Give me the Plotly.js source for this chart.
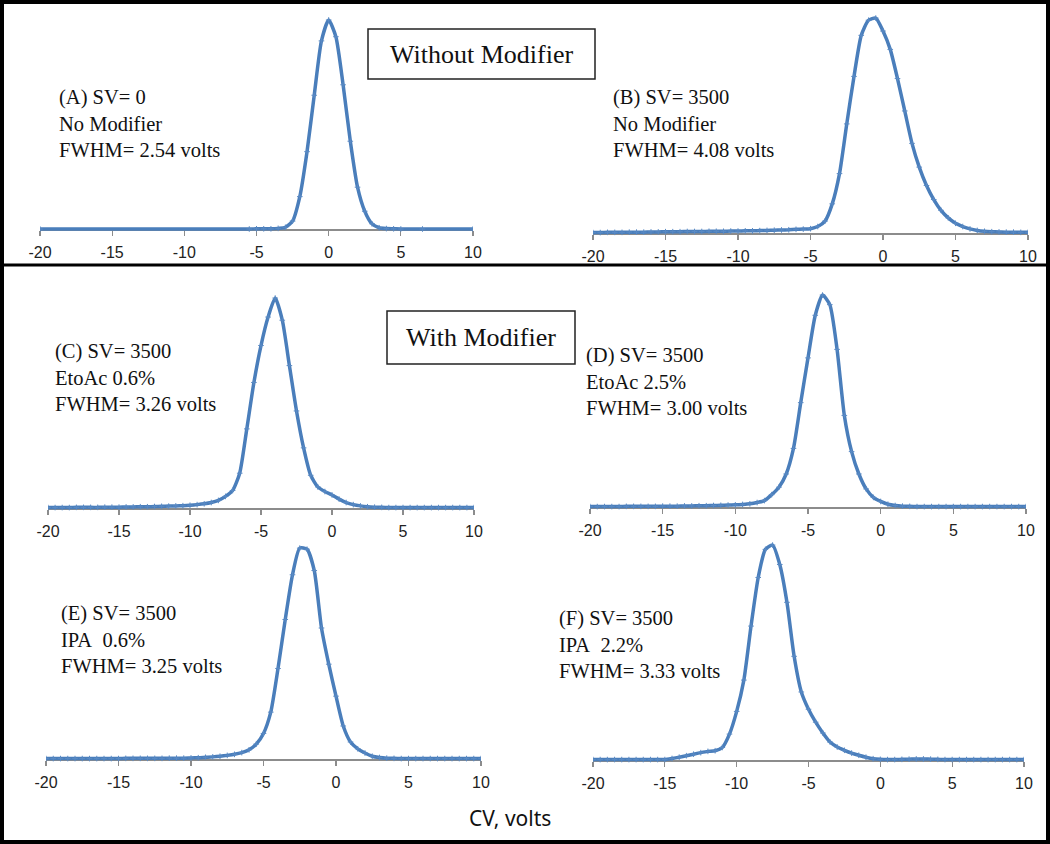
<!DOCTYPE html>
<html>
<head>
<meta charset="utf-8">
<script src="https://cdn.plot.ly/plotly-3.0.1.min.js"></script>
<style>html,body{margin:0;padding:0;background:#fff;}#chart{width:1050px;height:844px;}</style>
</head>
<body>
<div id="chart"></div>
<script>
// ---- Data (CV in volts, normalized intensity) ----
const cvA = [-20,-5.5,-5,-4.5,-4,-3.5,-3,-2.5,-2,-1.5,-1,-0.5,0,0.5,1,1.5,2,2.5,3,3.5,4,4.5,5,6.5,10];
const intensityA = [0,0,0.001,0.001,0.001,0.003,0.008,0.038,0.155,0.37,0.64,0.9,1.0,0.92,0.69,0.42,0.2,0.085,0.025,0.006,0.002,0.001,0,0,0];

const cv = [-20,-19.5,-19,-18.5,-18,-17.5,-17,-16.5,-16,-15.5,-15,-14.5,-14,-13.5,-13,-12.5,-12,-11.5,-11,-10.5,
            -10,-9.5,-9,-8.5,-8,-7.5,-7,-6.5,-6,-5.5,-5,-4.5,-4,-3.5,-3,-2.5,-2,-1.5,-1,-0.5,
            0,0.5,1,1.5,2,2.5,3,3.5,4,4.5,5,5.5,6,6.5,7,7.5,8,8.5,9,9.5,10];

const intensityB = [0.002,0.002,0.003,0.003,0.003,0.004,0.004,0.004,0.005,0.005,0.006,0.006,0.006,0.007,0.007,0.007,0.008,0.008,0.008,0.009,
                    0.009,0.01,0.01,0.011,0.012,0.013,0.014,0.015,0.017,0.018,0.02,
                    0.03,0.055,0.135,0.275,0.505,0.725,0.915,0.985,0.995,0.935,0.85,0.715,0.565,0.415,0.305,0.22,0.155,0.105,0.07,
                    0.045,0.03,0.019,0.012,0.008,0.006,0.005,0.004,0.004,0.003,0.003];

const intensityC = [0.002,0.002,0.002,0.002,0.003,0.003,0.003,0.003,0.004,0.004,0.004,0.005,0.005,0.006,0.006,0.007,0.008,0.009,0.01,0.011,0.013,
                    0.016,0.02,0.026,0.036,0.055,0.083,0.165,0.375,0.595,0.77,0.905,0.995,0.89,0.675,0.46,0.285,0.155,0.1,0.078,0.062,
                    0.042,0.026,0.016,0.01,0.006,0.004,0.003,0.002,
                    0.002,0.002,0.002,0.002,0.002,0.002,0.002,0.002,0.002,0.002,0.002,0.002];

const intensityD = [0.002,0.002,0.002,0.002,0.002,0.003,0.003,0.003,0.003,0.003,0.004,0.004,0.004,0.005,0.005,0.006,0.006,0.007,0.008,0.009,
                    0.01,0.012,0.015,0.021,0.03,0.058,0.093,0.155,0.275,0.49,0.7,0.9,0.995,0.95,0.74,0.43,0.26,0.155,0.085,0.045,
                    0.026,0.013,0.007,0.004,0.003,
                    0.002,0.002,0.002,0.002,0.002,0.002,0.002,0.002,0.002,0.002,0.002,0.002,0.002,0.002,0.002,0.002];

const intensityE = [0.002,0.002,0.002,0.002,0.002,0.002,0.002,0.002,0.002,0.002,0.002,0.003,0.003,0.003,0.003,0.003,0.003,0.004,0.004,0.004,0.005,
                    0.006,0.008,0.01,0.013,0.017,0.022,0.03,0.043,0.07,0.12,0.22,0.425,0.655,0.865,0.99,0.985,0.885,0.615,0.445,
                    0.295,0.155,0.08,0.048,0.028,0.013,0.007,0.004,0.003,
                    0.002,0.002,0.002,0.002,0.002,0.002,0.002,0.002,0.002,0.002,0.002,0.002];

const intensityF = [0.002,0.002,0.002,0.002,0.002,0.002,0.002,0.002,0.002,0.002,0.002,
                    0.007,0.013,0.02,0.027,0.034,0.04,0.043,0.058,0.12,0.225,0.37,0.62,0.845,0.975,0.995,0.905,0.73,0.48,0.315,
                    0.235,0.175,0.125,0.083,0.06,0.045,0.032,0.022,0.013,0.006,0.003,
                    0.002,0.002,0.003,0.004,0.005,0.005,0.004,0.003,0.002,
                    0.002,0.002,0.002,0.002,0.002,0.002,0.002,0.002,0.002,0.002,0.002];

const tickValues = [-20,-15,-10,-5,0,5,10];
const tickLabels = ['-20','-15','-10','-5','0','5','10'];

const panelLabels = [
  '(A) SV= 0<br>No Modifier<br>FWHM= 2.54 volts',
  '(B) SV= 3500<br>No Modifier<br>FWHM= 4.08 volts',
  '(C) SV= 3500<br>EtoAc 0.6%<br>FWHM= 3.26 volts',
  '(D) SV= 3500<br>EtoAc 2.5%<br>FWHM= 3.00 volts',
  '(E) SV= 3500<br>IPA&nbsp;&nbsp;0.6%<br>FWHM= 3.25 volts',
  '(F) SV= 3500<br>IPA&nbsp;&nbsp;2.2%<br>FWHM= 3.33 volts'
];
const boxTitles = ['Without Modifier', 'With Modifier'];
const axisTitle = 'CV, volts';

// ---- Layout geometry (pixels) ----
const W = 1050, H = 844;
const series = [
  {x: cvA, y: intensityA},
  {x: cv, y: intensityB},
  {x: cv, y: intensityC},
  {x: cv, y: intensityD},
  {x: cv, y: intensityE},
  {x: cv, y: intensityF}
];
const geom = [
  {x0: 40,  x1: 473,  base: 229, h: 209, tx: 57,  ty: 124},
  {x0: 593, x1: 1028, base: 233, h: 216, tx: 611, ty: 124},
  {x0: 48,  x1: 474,  base: 508, h: 211, tx: 53,  ty: 377},
  {x0: 590, x1: 1026, base: 507, h: 213, tx: 584, ty: 382},
  {x0: 46,  x1: 481,  base: 759, h: 213, tx: 59,  ty: 639},
  {x0: 593, x1: 1024, base: 760, h: 216, tx: 557, ty: 644}
];
const yLo = -0.03, yHi = 1.05;
const fx = px => px / W;
const fy = py => (H - py) / H;

const data = [];
const layout = {
  width: W, height: H,
  margin: {l: 0, r: 0, t: 0, b: 0},
  paper_bgcolor: '#ffffff', plot_bgcolor: 'rgba(0,0,0,0)',
  showlegend: false, hovermode: false,
  annotations: [], shapes: []
};

series.forEach((s, i) => {
  const k = i + 1;
  const g = geom[i];
  const xa = 'xaxis' + (k === 1 ? '' : k);
  const ya = 'yaxis' + (k === 1 ? '' : k);
  data.push({
    x: s.x, y: s.y,
    xaxis: 'x' + (k === 1 ? '' : k), yaxis: 'y' + (k === 1 ? '' : k),
    type: 'scatter', mode: 'lines+markers',
    line: {color: '#4A7EBB', width: 3.5, shape: 'spline', smoothing: 0.6},
    marker: {symbol: 'cross-thin', size: 4, color: '#5A8AC4', line: {width: 1, color: '#5A8AC4'}}
  });
  const bottomPx = g.base - yLo * g.h;
  const topPx = g.base - yHi * g.h;
  layout[ya] = {
    domain: [fy(bottomPx), fy(topPx)],
    range: [yLo, yHi], visible: false, fixedrange: true
  };
  layout[xa] = {
    domain: [fx(g.x0), fx(g.x1)],
    range: [-20, 10],
    anchor: 'free', position: fy(g.base),
    tickvals: tickValues, ticktext: tickLabels,
    showline: true, linecolor: '#8c8c8c', linewidth: 1.5,
    ticks: 'outside', ticklen: 5, tickwidth: 1.2, tickcolor: '#8c8c8c',
    showgrid: false, zeroline: false,
    layer: 'below traces',
    ticklabelstandoff: 3,
    tickfont: {family: 'Liberation Sans, Arial, sans-serif', size: 16, color: '#222'},
    fixedrange: true
  };
  layout.annotations.push({
    xref: 'paper', yref: 'paper', x: fx(g.tx), y: fy(g.ty),
    xanchor: 'left', yanchor: 'middle', align: 'left', showarrow: false,
    text: panelLabels[i],
    font: {family: 'Liberation Serif, Times New Roman, serif', size: 20.5, color: '#111'}
  });
});

// Boxed section titles
const boxes = [
  {x0: 368, x1: 595, y0: 29, y1: 79},
  {x0: 387, x1: 575, y0: 311, y1: 364}
];
boxes.forEach((b, i) => {
  layout.shapes.push({type: 'rect', xref: 'paper', yref: 'paper',
    x0: fx(b.x0), x1: fx(b.x1), y0: fy(b.y1), y1: fy(b.y0),
    line: {color: '#222', width: 1.5}, fillcolor: '#ffffff'});
  layout.annotations.push({xref: 'paper', yref: 'paper',
    x: fx((b.x0 + b.x1) / 2), y: fy((b.y0 + b.y1) / 2),
    xanchor: 'center', yanchor: 'middle', showarrow: false,
    text: boxTitles[i],
    font: {family: 'Liberation Serif, Times New Roman, serif', size: 26, color: '#111'}});
});

// Common x-axis title
layout.annotations.push({xref: 'paper', yref: 'paper', x: fx(510), y: fy(818),
  xanchor: 'center', yanchor: 'middle', showarrow: false, text: axisTitle,
  font: {family: 'Noto Sans, Open Sans, sans-serif', size: 21, color: '#111'}});

// Frames
layout.shapes.push({type: 'rect', xref: 'paper', yref: 'paper',
  x0: fx(2), x1: fx(1048), y0: fy(842), y1: fy(2), line: {color: '#000', width: 4}});
layout.shapes.push({type: 'line', xref: 'paper', yref: 'paper',
  x0: fx(2), x1: fx(1048), y0: fy(265), y1: fy(265), line: {color: '#000', width: 3}});

Plotly.newPlot('chart', data, layout, {staticPlot: true, displayModeBar: false});
</script>
</body>
</html>
